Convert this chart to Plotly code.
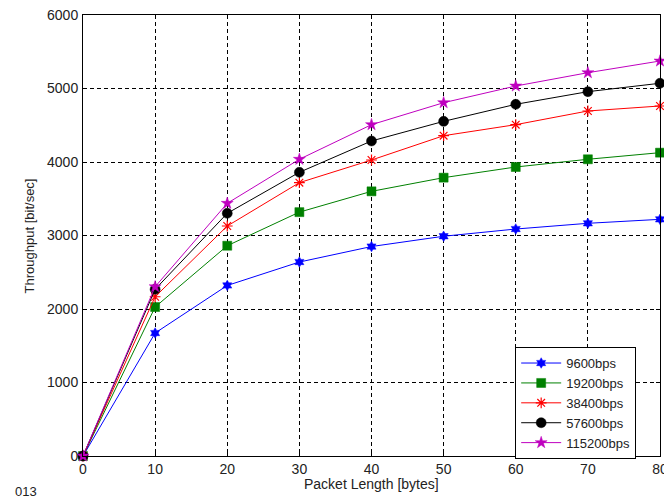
import plotly.graph_objects as go

packet_length = [0, 10, 20, 30, 40, 50, 60, 70, 80]

tp_9600 = [0, 1673, 2320, 2639, 2850, 2990, 3088, 3166, 3220]
tp_19200 = [0, 2027, 2861, 3318, 3601, 3787, 3932, 4037, 4127]
tp_38400 = [0, 2167, 3129, 3719, 4027, 4358, 4508, 4694, 4762]
tp_57600 = [0, 2268, 3302, 3860, 4286, 4553, 4785, 4957, 5071]
tp_115200 = [0, 2303, 3438, 4037, 4508, 4807, 5034, 5215, 5374]

series_names = ["9600bps", "19200bps", "38400bps", "57600bps", "115200bps"]

FONT = "Liberation Sans, Arial, sans-serif"

styles = [
    dict(color="#0000FF", symbol="hexagram", size=8, lw=1),
    dict(color="#008000", symbol="square", size=9, lw=1),
    dict(color="#FF0000", symbol="asterisk-open", size=9, lw=1),
    dict(color="#000000", symbol="circle", size=10, lw=1),
    dict(color="#BF00BF", symbol="star", size=9, lw=1),
]

all_series = [tp_9600, tp_19200, tp_38400, tp_57600, tp_115200]

fig = go.Figure()
for name, ys, st in zip(series_names, all_series, styles):
    marker = dict(symbol=st["symbol"], size=st["size"], color=st["color"])
    if st["symbol"] == "asterisk-open":
        marker["line"] = dict(color=st["color"], width=1.2)
    else:
        marker["line"] = dict(color=st["color"], width=0.5)
    fig.add_trace(go.Scatter(
        x=packet_length, y=ys, mode="lines+markers", name=name,
        line=dict(color=st["color"], width=st["lw"]),
        marker=marker, cliponaxis=False,
    ))

axis_common = dict(
    showline=True, linecolor="#000000", linewidth=1, mirror="allticks",
    ticks="inside", ticklen=4, tickcolor="#000000",
    showgrid=True, gridcolor="#000000", gridwidth=1, griddash="4px,3px",
    zeroline=False, ticklabeloverflow="allow", automargin=False,
    tickfont=dict(family=FONT, size=14, color="#222222"),
)

fig.update_xaxes(range=[0, 80], tickvals=[0, 10, 20, 30, 40, 50, 60, 70, 80], **axis_common)
fig.update_yaxes(range=[0, 6000], tickvals=[0, 1000, 2000, 3000, 4000, 5000, 6000],
                 ticklabelstandoff=1, **axis_common)

fig.update_layout(
    width=664, height=501,
    margin=dict(l=83, r=4, t=15, b=45, autoexpand=False),
    paper_bgcolor="#FFFFFF", plot_bgcolor="#FFFFFF",
    font=dict(family=FONT, size=13, color="#222222"),
    showlegend=True,
    legend=dict(
        x=0.749, y=0.247, xanchor="left", yanchor="top",
        bgcolor="#FFFFFF", bordercolor="#000000", borderwidth=1,
        font=dict(family=FONT, size=13, color="#222222"),
        itemwidth=40, tracegroupgap=0,
    ),
    annotations=[
        dict(text="Packet Length [bytes]", xref="paper", yref="paper",
             x=0.5, y=-0.064, xanchor="center", yanchor="middle", showarrow=False,
             font=dict(family=FONT, size=14, color="#222222")),
        dict(text="Throughput [bit/sec]", xref="paper", yref="paper",
             x=-0.092, y=0.5, xanchor="center", yanchor="middle", showarrow=False,
             textangle=-90, font=dict(family=FONT, size=13, color="#222222")),
        dict(text="013", xref="paper", yref="paper",
             x=-0.122, y=-0.08, xanchor="left", yanchor="middle", showarrow=False,
             font=dict(family=FONT, size=13, color="#222222")),
    ],
)

fig.write_html("out.html", config={"displayModeBar": False},
               post_script="document.body.style.margin='0';document.body.style.overflow='hidden';")
